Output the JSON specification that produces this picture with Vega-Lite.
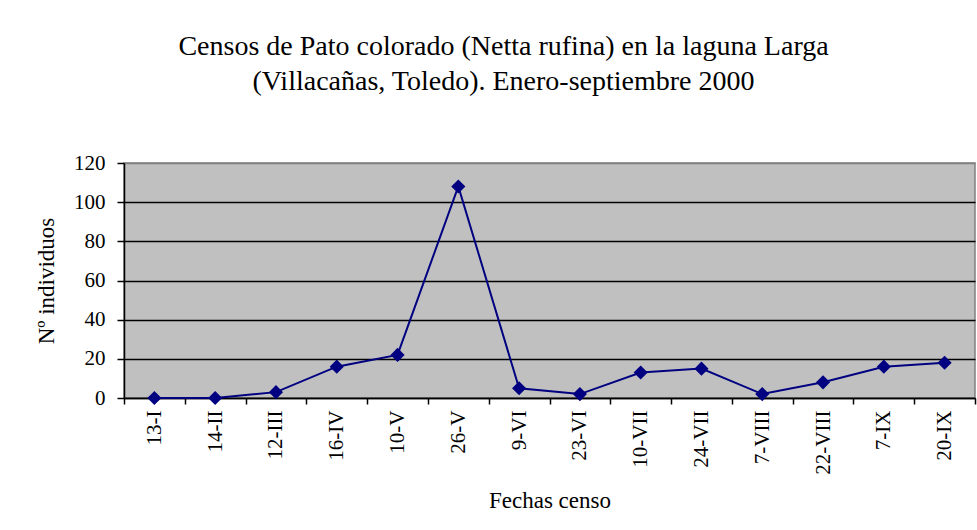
{
  "$schema": "https://vega.github.io/schema/vega-lite/v6.json",
  "autosize": {"type": "none"},
  "padding": {"left": 124, "top": 163, "right": 2, "bottom": 132},
  "width": 851,
  "height": 235,
  "background": "white",
  "title": {
    "text": ["Censos de Pato colorado (Netta rufina) en la laguna Larga", "(Villacañas, Toledo). Enero-septiembre 2000"],
    "font": "Liberation Serif",
    "fontSize": 28,
    "fontWeight": "normal",
    "color": "black",
    "anchor": "middle",
    "dx": -46,
    "lineHeight": 35,
    "offset": 56
  },
  "data": {
    "values": [
      {"fecha": "13-I", "n": 0},
      {"fecha": "14-II", "n": 0},
      {"fecha": "12-III", "n": 3},
      {"fecha": "16-IV", "n": 16},
      {"fecha": "10-V", "n": 22},
      {"fecha": "26-V", "n": 108},
      {"fecha": "9-VI", "n": 5},
      {"fecha": "23-VI", "n": 2},
      {"fecha": "10-VII", "n": 13},
      {"fecha": "24-VII", "n": 15},
      {"fecha": "7-VIII", "n": 2},
      {"fecha": "22-VIII", "n": 8},
      {"fecha": "7-IX", "n": 16},
      {"fecha": "20-IX", "n": 18}
    ]
  },
  "mark": {"type": "line", "color": "#000080", "strokeWidth": 2, "point": {"shape": "diamond", "size": 200, "filled": true, "color": "#000080", "opacity": 1}},
  "encoding": {
    "x": {
      "field": "fecha",
      "type": "ordinal",
      "sort": null,
      "scale": {"type": "band", "paddingInner": 0, "paddingOuter": 0},
      "axis": {
        "title": "Fechas censo",
        "titleFont": "Liberation Serif",
        "titleFontSize": 23,
        "titleFontWeight": "normal",
        "titleColor": "black",
        "titlePadding": 15,
        "labelFont": "Liberation Serif",
        "labelFontSize": 21,
        "labelColor": "black",
        "labelAngle": -90,
        "labelPadding": 6,
        "tickBand": "extent",
        "tickSize": 6,
        "tickColor": "black",
        "tickWidth": 1.5,
        "domainColor": "black",
        "domainWidth": 1.5,
        "grid": false
      }
    },
    "y": {
      "field": "n",
      "type": "quantitative",
      "scale": {"domain": [0, 120], "nice": false},
      "axis": {
        "title": "Nº individuos",
        "titleFont": "Liberation Serif",
        "titleFontSize": 23,
        "titleFontWeight": "normal",
        "titleColor": "black",
        "titlePadding": 15,
        "values": [0, 20, 40, 60, 80, 100, 120],
        "labelFont": "Liberation Serif",
        "labelFontSize": 21,
        "labelColor": "black",
        "labelPadding": 12,
        "tickSize": 7,
        "tickColor": "black",
        "tickWidth": 1.5,
        "domainColor": "black",
        "domainWidth": 1.5,
        "grid": true,
        "gridColor": {"condition": {"test": "datum.value == 120", "value": "#808080"}, "value": "black"},
        "gridWidth": 1.5,
        "gridOpacity": 1
      }
    }
  },
  "config": {
    "view": {"fill": "#C0C0C0", "stroke": "#808080", "strokeWidth": 1.5}
  }
}
